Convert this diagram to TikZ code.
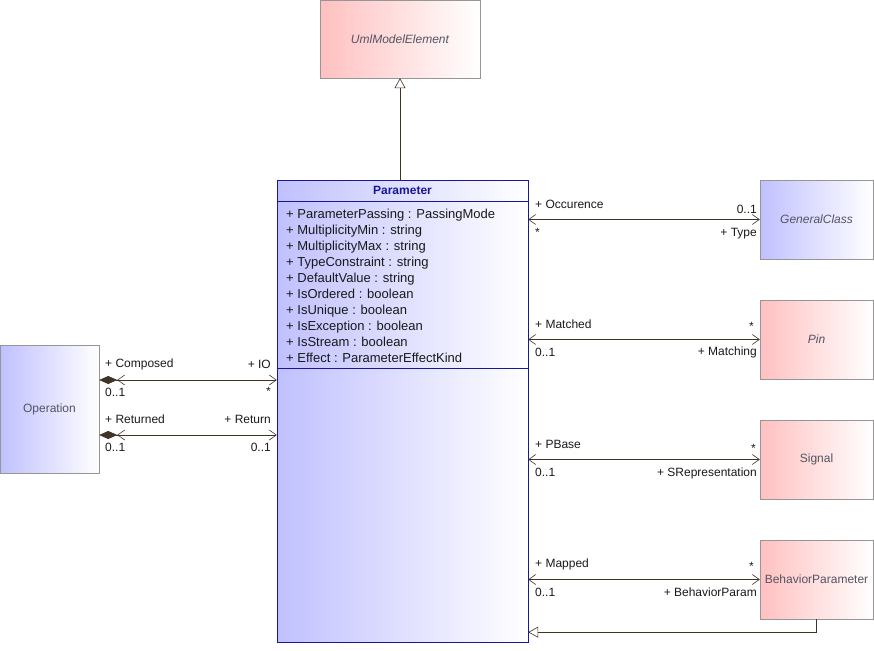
\documentclass[tikz,border=0pt]{standalone}
\usepackage{fontspec}
\setmainfont{Liberation Sans}
\usetikzlibrary{arrows.meta}

\definecolor{umlred}{RGB}{255,192,192}
\definecolor{umlblue}{RGB}{192,192,255}
\definecolor{umlgray}{RGB}{150,150,150}
\definecolor{umlnavy}{RGB}{24,24,150}
\definecolor{umlline}{RGB}{64,52,36}
\definecolor{umltext}{RGB}{84,84,100}

\tikzset{
  classred/.style={draw=umlgray, left color=umlred, right color=white,
    minimum width=113pt, minimum height=79pt, inner sep=0pt,
    text=umltext, font=\fontsize{12}{14}\selectfont},
  classblue/.style={classred, left color=umlblue},
  rolelbl/.style={inner sep=0pt, text=black!90, font=\fontsize{12}{14}\selectfont},
  barb/.tip={Straight Barb[length=7pt,width=10pt]},
  assoc/.style={draw=umlline, semithick, barb-barb},
  compos/.style={draw=umlline, semithick, {Diamond[length=18pt,width=8pt] barb}-barb},
  generalize/.style={draw=umlline, semithick, -{Triangle[open,length=10pt,width=11pt,fill=white]}}
}

\begin{document}
\begin{tikzpicture}[x=1pt,y=-1pt]
\useasboundingbox (0,0) rectangle (874,650);

% classes
\node[classred, minimum width=160pt, minimum height=78pt] (umlelem) at (400,39) {\itshape UmlModelElement};
\node[draw=umlnavy, left color=umlblue, right color=white, minimum width=251pt, minimum height=462pt] (param) at (402.5,411) {};
\node[classblue, minimum width=99pt, minimum height=128pt] (operation) at (49.5,409) {Operation};
\node[classblue] (genclass) at (816.5,219.5) {\itshape GeneralClass};
\node[classred] (pin) at (816.5,339.5) {\itshape Pin};
\node[classred] (signal) at (816.5,459.5) {Signal};
\node[classred] (behparam) at (816.5,579.5) {BehaviorParameter};

% Parameter compartments
\node[inner sep=0pt, text=umlnavy, font=\bfseries\fontsize{12}{14}\selectfont] (ptitle) at (402.5,190) {Parameter};
\draw[umlnavy] ([yshift=-21pt]param.north west) -- ([yshift=-21pt]param.north east);
\draw[umlnavy] ([yshift=-188pt]param.north west) -- ([yshift=-188pt]param.north east);
\node[inner sep=0pt, anchor=north west, align=left, text=black!90, font=\fontsize{13}{16}\selectfont] (pattrs) at (286,208.5)
  {+ ParameterPassing : PassingMode\\
   + MultiplicityMin : string\\
   + MultiplicityMax : string\\
   + TypeConstraint : string\\
   + DefaultValue : string\\
   + IsOrdered : boolean\\
   + IsUnique : boolean\\
   + IsException : boolean\\
   + IsStream : boolean\\
   + Effect : ParameterEffectKind};

% generalizations
\draw[generalize] (umlelem.south |- param.north) -- (umlelem.south);
\draw[generalize] (behparam.south) |- ([yshift=10pt]param.south east);

% Operation
\draw[compos] ([yshift=29pt]operation.east) -- ([yshift=29pt]operation.east -| param.west);
\node[rolelbl, anchor=west] (lcomposed) at (105,364.5) {+ Composed};
\node[rolelbl, anchor=east] (lio) at (271,364.5) {+ IO};
\node[rolelbl, anchor=west] (mcomposed) at (105,392.5) {0..1};
\node[rolelbl, anchor=east] (mio) at (271,391) {*};
\draw[compos] ([yshift=-26pt]operation.east) -- ([yshift=-26pt]operation.east -| param.west);
\node[rolelbl, anchor=west] (lreturned) at (105,419.5) {+ Returned};
\node[rolelbl, anchor=east] (lreturn) at (271,419.5) {+ Return};
\node[rolelbl, anchor=west] (mreturned) at (105,447.5) {0..1};
\node[rolelbl, anchor=east] (mreturn) at (271,447.5) {0..1};

% GeneralClass
\draw[assoc] (genclass.west -| param.east) -- (genclass.west);
\node[rolelbl, anchor=west] (loccur) at (535,204.5) {+ Occurence};
\node[rolelbl, anchor=west] (moccur) at (535,232) {*};
\node[rolelbl, anchor=east] (mtype) at (757,209.5) {0..1};
\node[rolelbl, anchor=east] (ltype) at (757,233.5) {+ Type};

% Pin
\draw[assoc] (pin.west -| param.east) -- (pin.west);
\node[rolelbl, anchor=west] (lmatched) at (535,324.5) {+ Matched};
\node[rolelbl, anchor=west] (mmatched) at (535,352.5) {0..1};
\node[rolelbl, anchor=east] (mmatching) at (754,326) {*};
\node[rolelbl, anchor=east] (lmatching) at (757,352.5) {+ Matching};

% Signal
\draw[assoc] (signal.west -| param.east) -- (signal.west);
\node[rolelbl, anchor=west] (lpbase) at (535,444.5) {+ PBase};
\node[rolelbl, anchor=west] (mpbase) at (535,472.5) {0..1};
\node[rolelbl, anchor=east] (msrep) at (756,448) {*};
\node[rolelbl, anchor=east] (lsrep) at (757,473.5) {+ SRepresentation};

% BehaviorParameter
\draw[assoc] (behparam.west -| param.east) -- (behparam.west);
\node[rolelbl, anchor=west] (lmapped) at (535,564.5) {+ Mapped};
\node[rolelbl, anchor=west] (mmapped) at (535,592.5) {0..1};
\node[rolelbl, anchor=east] (mbparam) at (754,566) {*};
\node[rolelbl, anchor=east] (lbparam) at (757,592.5) {+ BehaviorParam};
\end{tikzpicture}
\end{document}
